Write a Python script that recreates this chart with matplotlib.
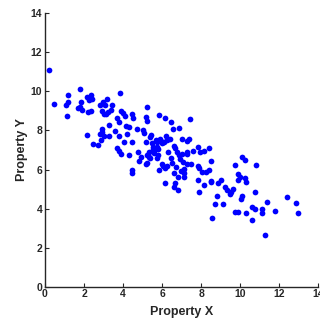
import matplotlib
matplotlib.use("Agg")
import matplotlib.pyplot as plt

x_vals = [0.22, 0.48, 1.08, 1.20, 1.18, 1.11, 1.71, 1.81, 1.86, 1.90, 1.79, 2.13, 2.24, 2.34, 2.42,
          2.20, 2.37, 2.17, 2.46, 2.70, 2.82, 2.97, 3.06, 2.90, 3.00, 3.12, 3.16, 3.24, 3.38, 3.43,
          2.90, 2.90, 2.82, 2.85, 3.00, 3.26, 3.28, 3.57, 3.71, 3.81, 3.84, 3.91, 3.98, 4.10, 3.77,
          3.71, 3.79, 3.89, 4.05, 4.15, 4.30, 4.20, 4.29, 4.46, 4.47, 4.52, 4.46, 4.46, 4.70, 4.78,
          4.83, 4.93, 5.02, 5.05, 5.16, 5.22, 5.19, 5.24, 5.21, 5.16, 5.21, 5.33, 5.38, 5.41, 5.46,
          5.38, 5.31, 5.55, 5.58, 5.51, 5.67, 5.72, 5.75, 5.80, 5.86, 5.86, 5.91, 5.98, 6.03, 5.72,
          5.79, 5.69, 6.01, 6.06, 6.13, 6.16, 6.21, 6.23, 6.10, 6.27, 6.30, 6.13, 6.40, 6.47, 6.47,
          6.54, 6.52, 6.61, 6.66, 6.62, 6.68, 6.59, 6.71, 6.78, 6.81, 6.86, 6.83, 6.86, 6.93, 6.98,
          7.03, 7.03, 7.09, 7.12, 7.14, 7.14, 7.26, 7.26, 7.29, 7.29, 7.38, 7.44, 7.46, 7.58, 7.84,
          7.85, 7.87, 7.85, 7.87, 7.96, 8.02, 8.13, 8.16, 8.23, 8.42, 8.42, 8.49, 8.49, 8.49, 8.55,
          8.69, 8.79, 8.84, 9.00, 9.13, 9.22, 9.31, 9.48, 9.54, 9.63, 9.73, 9.73, 9.87, 9.89, 9.89,
          9.97, 10.02, 10.07, 10.07, 10.26, 10.24, 10.28, 10.30, 10.60, 10.62, 10.74, 10.74, 10.79,
          11.10, 11.13, 11.27, 11.37, 11.80, 12.41, 12.86, 12.94]
y_vals = [11.08, 9.34, 9.29, 9.48, 9.82, 8.72, 9.13, 10.11, 9.44, 9.07, 9.22, 9.70, 9.56, 9.83, 9.63,
          8.95, 8.98, 7.79, 7.29, 7.24, 9.31, 9.44, 9.29, 9.00, 8.83, 8.86, 9.60, 8.95, 9.03, 9.29,
          8.08, 7.92, 7.80, 7.50, 7.70, 8.26, 7.70, 7.97, 8.62, 8.45, 9.90, 9.00, 8.90, 8.74, 7.70,
          7.12, 6.95, 6.78, 7.39, 8.23, 8.20, 7.80, 6.76, 7.41, 8.84, 8.62, 5.98, 5.82, 8.09, 6.88,
          6.42, 6.62, 8.02, 7.85, 7.39, 9.22, 8.71, 8.49, 6.74, 6.27, 6.35, 6.91, 7.68, 7.77, 7.34,
          6.57, 6.66, 7.17, 6.83, 7.03, 7.51, 7.17, 7.43, 7.03, 8.79, 5.98, 7.55, 7.34, 7.39, 6.57,
          6.74, 7.03, 6.30, 6.18, 8.62, 5.31, 7.72, 7.51, 7.43, 6.20, 6.91, 6.06, 7.58, 8.45, 6.61,
          8.06, 6.32, 7.20, 7.09, 5.80, 5.29, 5.12, 6.15, 6.91, 5.60, 8.11, 4.95, 6.74, 6.56, 5.92,
          6.80, 7.55, 6.40, 6.03, 5.80, 5.60, 7.46, 6.78, 6.28, 6.91, 7.56, 8.61, 6.28, 6.97, 7.17,
          6.20, 6.10, 5.45, 4.85, 6.91, 5.89, 6.97, 5.21, 5.87, 7.12, 5.98, 6.42, 5.36, 5.43, 3.52,
          4.23, 4.64, 5.33, 5.45, 4.23, 5.09, 4.95, 4.73, 4.87, 4.99, 3.84, 6.21, 5.77, 5.46, 3.84,
          5.63, 4.51, 4.64, 6.66, 6.49, 5.55, 5.36, 3.76, 3.41, 4.06, 4.87, 3.96, 6.21,
          3.96, 3.77, 2.63, 4.32, 3.89, 4.58, 4.27, 3.76]

x_ticks = [0, 2, 4, 6, 8, 10, 12, 14]
y_ticks = [0, 2, 4, 6, 8, 10, 12, 14]

plt.rcParams['font.family'] = ['Liberation Sans', 'DejaVu Sans']

fig = plt.figure(figsize=(3.2, 3.22), dpi=100)
ax = fig.add_axes([45/320, (322-286.7)/322, 273.3/320, 273.4/322])
ax.scatter(x_vals, y_vals, s=17, color=(0, 0, 1), linewidths=0, clip_on=False)
ax.set_xlim(0, 14)
ax.set_ylim(0, 14)
ax.set_xticks(x_ticks)
ax.set_yticks(y_ticks)
axc = (0.15, 0.15, 0.15)
for side in ['top', 'right']:
    ax.spines[side].set_visible(False)
for side in ['left', 'bottom']:
    ax.spines[side].set_color(axc)
    ax.spines[side].set_linewidth(1.0)
ax.tick_params(direction='in', length=3, width=0.8, color=axc, labelcolor=axc,
               labelsize=7.5, pad=2)
for lab in ax.get_xticklabels() + ax.get_yticklabels():
    lab.set_fontweight('bold')
ax.set_xlabel('Property X', fontsize=9, fontweight='bold', color=axc, labelpad=5)
ax.set_ylabel('Property Y', fontsize=9, fontweight='bold', color=axc, labelpad=2)

fig.savefig('out.png', dpi=100)
